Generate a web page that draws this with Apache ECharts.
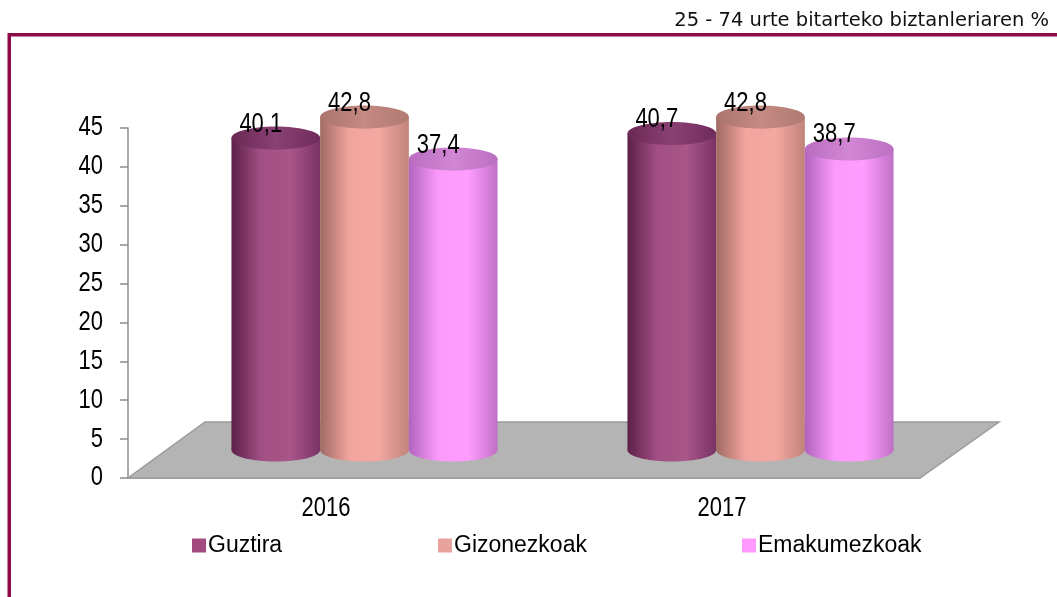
<!DOCTYPE html>
<html>
<head>
<meta charset="utf-8">
<script src="https://cdn.jsdelivr.net/npm/echarts@6/dist/echarts.min.js"></script>
<style>
  html, body { margin: 0; padding: 0; background: #fff; }
  #chart { width: 1057px; height: 597px; }
</style>
</head>
<body>
<div id="chart"></div>
<script>
// datuak
var years = ['2016', '2017'];
var guztira = [40.1, 40.7];
var gizonezkoak = [42.8, 42.8];
var emakumezkoak = [37.4, 38.7];
var seriesNames = ['Guztira', 'Gizonezkoak', 'Emakumezkoak'];
var yTicks = [0, 5, 10, 15, 20, 25, 30, 35, 40, 45];

var FONT = "'Liberation Sans', Arial, sans-serif";
var FS = 22;
var SY = 1.22;           // letra estua/luzea
var DX = 77, DY = -56;   // 3D sakonera

// kolore multzoak: ertza, erdia, argia, eskuina, goiko aldea
var palettes = [
  { side: ['#5c2049', '#a24f85', '#a85589', '#7a3366'], top: ['#6a2856', '#8a4073', '#6f2c5b'], legend: '#a34a80' },
  { side: ['#a06a64', '#f2a59e', '#f3a8a1', '#c0837b'], top: ['#aa746d', '#c58a82', '#b07a72'], legend: '#e8a39c' },
  { side: ['#b064be', '#fc9afc', '#ff9cff', '#c070c6'], top: ['#b96cc0', '#d287d4', '#bb6fc2'], legend: '#ff99ff' }
];

function grad(cols) {
  var stops = [];
  for (var i = 0; i < cols.length; i++) {
    stops.push({ offset: i / (cols.length - 1), color: cols[i] });
  }
  return { type: 'linear', x: 0, y: 0, x2: 1, y2: 0, colorStops: stops };
}

function label(text, x, y, align) {
  return {
    type: 'text', x: x, y: y, scaleY: SY,
    style: { text: text, x: 0, y: 0, align: align, verticalAlign: 'middle', font: FS + 'px ' + FONT, fill: '#000' }
  };
}

function floorItem(params, api) {
  var cs = params.coordSys;
  var x0 = cs.x, x1 = cs.x + cs.width, y0 = cs.y + cs.height;
  return {
    type: 'group',
    children: [{
      type: 'polygon',
      shape: { points: [[x0, y0], [x1, y0], [x1 + DX + 2, y0 + DY], [x0 + DX, y0 + DY]] },
      style: { fill: '#b4b4b4', stroke: '#9a9a9a', lineWidth: 1.5 }
    }]
  };
}

// ardatzetako etiketak
function yLabelItem(params, api) {
  var p = api.coord([0, api.value(1)]);
  return label(String(api.value(1)), params.coordSys.x - 25, p[1], 'right');
}
function xLabelItem(params, api) {
  var p = api.coord([api.value(0), 0]);
  return label(years[api.value(0)], p[0], p[1] + 31, 'center');
}

function cylinder(idx) {
  return function (params, api) {
    var cat = api.value(0), val = api.value(1);
    var base = api.coord([cat, 0]);
    var top = api.coord([cat, val]);
    var band = api.size([1, 0])[0];
    var w = band * 0.224;
    var cx = base[0] + DX / 2 + (idx - 1) * w;
    var by = base[1] + DY / 2, ty = top[1] + DY / 2;
    var rx = w / 2, ry = w * 0.13;
    var p = palettes[idx];
    return {
      type: 'group',
      children: [
        { type: 'ellipse', shape: { cx: cx, cy: by, rx: rx, ry: ry }, style: { fill: grad(p.side) } },
        { type: 'rect', shape: { x: cx - rx, y: ty, width: 2 * rx, height: by - ty }, style: { fill: grad(p.side) } },
        { type: 'ellipse', shape: { cx: cx, cy: ty, rx: rx, ry: ry }, style: { fill: grad(p.top) } },
        label(String(val).replace('.', ','), cx - 15, ty - 14, 'center')
      ]
    };
  };
}

var seriesData = [guztira, gizonezkoak, emakumezkoak];
var series = [{
  type: 'custom',
  renderItem: floorItem,
  data: [[0, 0]],
  z: 1,
  silent: true
}, {
  type: 'custom',
  renderItem: yLabelItem,
  data: yTicks.map(function (t) { return [0, t]; }),
  clip: false, silent: true, z: 6
}, {
  type: 'custom',
  renderItem: xLabelItem,
  data: years.map(function (y, i) { return [i, 0]; }),
  clip: false, silent: true, z: 6
}];
for (var s = 0; s < 3; s++) {
  series.push({
    name: seriesNames[s],
    type: 'custom',
    renderItem: cylinder(s),
    itemStyle: { color: palettes[s].legend },
    encode: { x: 0, y: 1 },
    data: years.map(function (y, i) { return [i, seriesData[s][i]]; }),
    z: 5
  });
}

var legendLeft = [187, 433, 737];
var legends = seriesNames.map(function (n, i) {
  return {
    data: [n], left: legendLeft[i], top: 529,
    icon: 'rect', itemWidth: 14, itemHeight: 14, itemGap: 0,
    textStyle: { fontFamily: FONT, fontSize: 23, color: '#000', padding: [0, 0, 0, -3] }
  };
});

var chart = echarts.init(document.getElementById('chart'));
chart.setOption({
  animation: false,
  backgroundColor: '#fff',
  grid: { left: 128, right: 137, top: 128, bottom: 119 },
  legend: legends,
  xAxis: {
    type: 'category',
    data: years,
    axisLine: { lineStyle: { color: '#8c8c8c', width: 1.5 } },
    axisTick: { length: 8, lineStyle: { color: '#8c8c8c', width: 1.5 } },
    axisLabel: { show: false }
  },
  yAxis: {
    type: 'value',
    min: yTicks[0], max: yTicks[yTicks.length - 1], interval: 5,
    axisLine: { show: true, lineStyle: { color: '#8c8c8c', width: 1.5 } },
    axisTick: { show: true, length: 8, lineStyle: { color: '#8c8c8c', width: 1.5 } },
    splitLine: { show: false },
    axisLabel: { show: false }
  },
  graphic: [
    { type: 'rect', shape: { x: 8, y: 33, width: 1049, height: 3.5 }, style: { fill: '#8c0a45' } },
    { type: 'rect', shape: { x: 7.5, y: 33, width: 3.5, height: 564 }, style: { fill: '#8c0a45' } },
    { type: 'text', right: 8, top: 11,
      style: { text: '25 - 74 urte bitarteko biztanleriaren %', font: '19.5px "DejaVu Sans", sans-serif', fill: '#111' } }
  ],
  series: series
});
</script>
</body>
</html>
